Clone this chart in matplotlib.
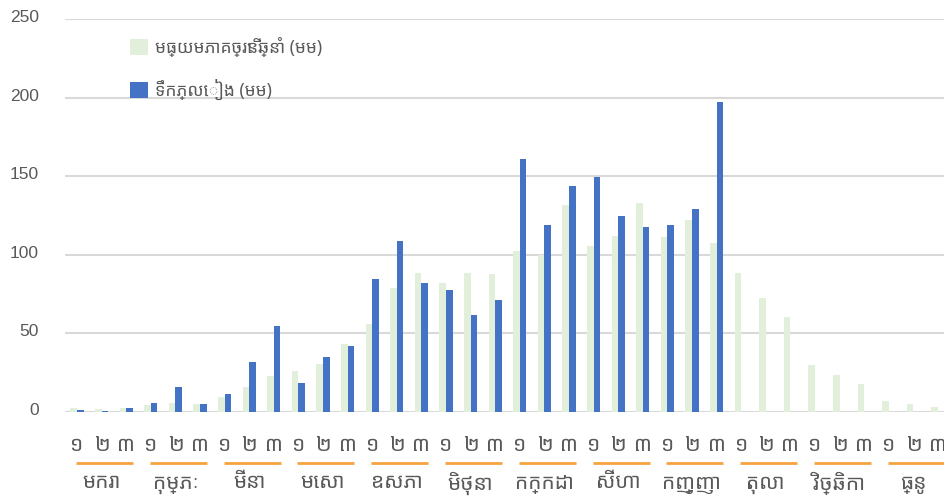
import matplotlib
matplotlib.use("Agg")
import matplotlib.pyplot as plt
import numpy as np
from matplotlib import font_manager
from matplotlib.transforms import blended_transform_factory, ScaledTranslation

# ---- pick an installed Khmer font ----
installed = {f.name for f in font_manager.fontManager.ttflist}
prefs = ["Noto Sans Khmer", "Kantumruy Pro", "Siemreap", "Battambang",
         "Hanuman", "Content", "Khmer OS", "Khmer OS System"]
kh = [p for p in prefs if p in installed]
families = kh + ["DejaVu Sans"]
plt.rcParams["font.family"] = families

# ---- data ----
months = ["មករា", "កុម្ភៈ", "មីនា", "មេសា", "ឧសភា", "មិថុនា",
          "កក្កដា", "សីហា", "កញ្ញា", "តុលា", "វិច្ឆិកា", "ធ្នូ"]
dekads = ["១", "២", "៣"]
avg_label = "មធ្យមភាគច្រើនឆ្នាំ (មម)"
rain_label = "ទឹកភ្លៀង (មម)"

avg_mm = [2.2, 1.6, 2.2, 4.0, 5.4, 4.8, 9.3, 15.5, 22.9, 25.9, 30.5, 43.1,
          56.0, 78.5, 87.9, 81.9, 88.5, 87.7, 102.4, 99.8, 131.8, 105.3, 111.5, 133.0,
          110.9, 122.2, 107.5, 87.9, 72.3, 60.2, 29.3, 23.5, 17.4, 6.9, 4.8, 3.1]
rain_mm = [1.0, 0.3, 2.5, 5.4, 15.9, 5.0, 11.0, 31.6, 54.4, 18.2, 34.6, 41.9,
           84.5, 108.8, 81.9, 77.4, 61.5, 70.8, 161.1, 118.5, 143.9, 149.2, 124.7, 117.7,
           118.7, 128.8, 196.9, np.nan, np.nan, np.nan, np.nan, np.nan, np.nan, np.nan, np.nan, np.nan]
yticks = [0, 50, 100, 150, 200, 250]

# ---- figure ----
W, H = 944, 499
fig = plt.figure(figsize=(W / 100, H / 100), dpi=100)
ax = fig.add_axes([64.7 / W, 87.5 / H, 885.6 / W, 392.5 / H])

green = "#E2EFDA"
blue = "#4472C4"
grey_txt = "#595959"

x = np.arange(len(avg_mm))
bw = 0.27
ax.bar(x - 0.135, avg_mm, width=bw, color=green, label=avg_label, zorder=2)
ax.bar(x + 0.135, rain_mm, width=bw, color=blue, label=rain_label, zorder=3)

ax.set_xlim(-0.5, len(avg_mm) - 0.5)
ax.set_ylim(0, 250)
ax.set_yticks(yticks)
ax.set_yticklabels([str(v) for v in yticks], fontsize=12.5, color=grey_txt,
                   family=["Liberation Sans", "DejaVu Sans"])
ax.tick_params(axis="y", length=0, pad=18.5)
ax.tick_params(axis="x", length=0, labelbottom=False)
up = ScaledTranslation(0, 2 / 72, fig.dpi_scale_trans)
for lab in ax.get_yticklabels():
    lab.set_transform(lab.get_transform() + up)
ax.yaxis.grid(True, color="#D9D9D9", linewidth=1.5, zorder=0)
ax.set_axisbelow(True)
for s in ax.spines.values():
    s.set_visible(False)

# ---- multi-level category labels ----
tr = blended_transform_factory(ax.transData, fig.transFigure)
for i in range(len(avg_mm)):
    ax.text(x[i], 1 - 445.5 / H, dekads[i % 3], transform=tr, ha="center",
            va="center", fontsize=15, color=grey_txt, clip_on=False)
for m, name in enumerate(months):
    c = 3 * m + 1 + 0.12
    ax.plot([c - 1.16, c + 1.16], [1 - 463.3 / H] * 2, transform=tr,
            color="#F5A33E", linewidth=2, clip_on=False, solid_capstyle="butt")
    ax.text(3 * m + 1, 1 - 483 / H, name, transform=tr, ha="center",
            va="center", fontsize=15, color=grey_txt, clip_on=False)

# ---- legend ----
ax.legend(loc="upper left", bbox_to_anchor=(130 / W, 1 - 37 / H),
          bbox_transform=fig.transFigure, frameon=False, fontsize=12.5,
          handlelength=1.03, handleheight=1.03, handletextpad=0.4,
          labelspacing=1.25, borderpad=0, borderaxespad=0, labelcolor=grey_txt)

fig.savefig("out.png", dpi=100)
